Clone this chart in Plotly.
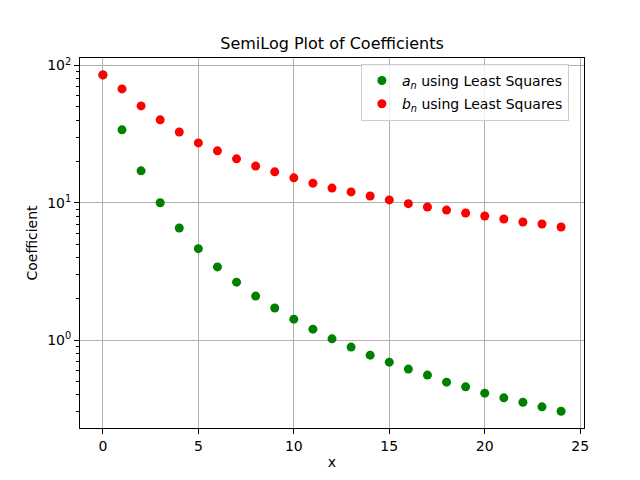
import plotly.graph_objects as go

# coefficient index
n = list(range(25))

# values
a_n = [85.5, 34.0, 17.1, 10.0, 6.55, 4.63, 3.41, 2.64, 2.09, 1.71, 1.42, 1.20, 1.02,
       0.888, 0.776, 0.690, 0.614, 0.555, 0.493, 0.456, 0.410, 0.379, 0.352, 0.326, 0.303]
b_n = [85.5, 67.6, 50.8, 40.2, 32.8, 27.3, 23.9, 20.9, 18.5, 16.8, 15.2, 13.9, 12.8,
       12.0, 11.2, 10.5, 9.85, 9.31, 8.85, 8.43, 8.01, 7.62, 7.25, 7.0, 6.66]

x_ticks = [0, 5, 10, 15, 20, 25]
y_ticks = [1, 10, 100]
y_labels = ["10<sup>0</sup>", "10<sup>1</sup>", "10<sup>2</sup>"]
y_minor = [m * 10 ** e for e in (-1, 0, 1, 2) for m in range(2, 10)]

fig = go.Figure()
fig.add_trace(go.Scatter(
    x=n, y=a_n, mode="markers",
    marker=dict(color="green", size=9),
    legendgroup="a",
    name="<i>a</i><sub><i>n</i></sub> using Least Squares"
))
fig.add_trace(go.Scatter(
    x=n, y=b_n, mode="markers",
    marker=dict(color="red", size=9),
    legendgroup="b",
    name="<i>b</i><sub><i>n</i></sub> using Least Squares"
))

axis_common = dict(
    showline=True, mirror=True, linecolor="black", linewidth=1,
    showgrid=True, gridcolor="#b0b0b0", gridwidth=1,
    ticks="outside", ticklen=5, tickcolor="black",
    tickfont=dict(size=14, color="black"),
    zeroline=False
)

# page body has an 8px margin, so the figure is 8px smaller than the window
fig.update_layout(
    width=632, height=472,
    paper_bgcolor="white", plot_bgcolor="white",
    font=dict(family="DejaVu Sans", size=14, color="black"),
    margin=dict(l=72, r=56, t=50, b=45),
    title=dict(text="SemiLog Plot of Coefficients", x=0.5, xanchor="center",
               xref="paper", y=1 - 35 / 472, yanchor="middle", font=dict(size=16)),
    xaxis=dict(axis_common, range=[-1.2, 25.2], tickvals=x_ticks,
               title=dict(text="x", font=dict(size=14), standoff=4)),
    yaxis=dict(axis_common, type="log", range=[-0.641, 2.055],
               tickvals=y_ticks, ticktext=y_labels,
               title=dict(text="Coefficient", font=dict(size=14), standoff=6),
               minor=dict(tickvals=y_minor, ticks="outside", ticklen=3,
                          tickcolor="black", showgrid=False)),
    legend=dict(x=0.97, y=0.984, xanchor="right", yanchor="top",
                bgcolor="rgba(255,255,255,0.8)", bordercolor="#cccccc",
                borderwidth=1, font=dict(size=14), tracegroupgap=2),
    showlegend=True
)

fig.write_html("out.html")
